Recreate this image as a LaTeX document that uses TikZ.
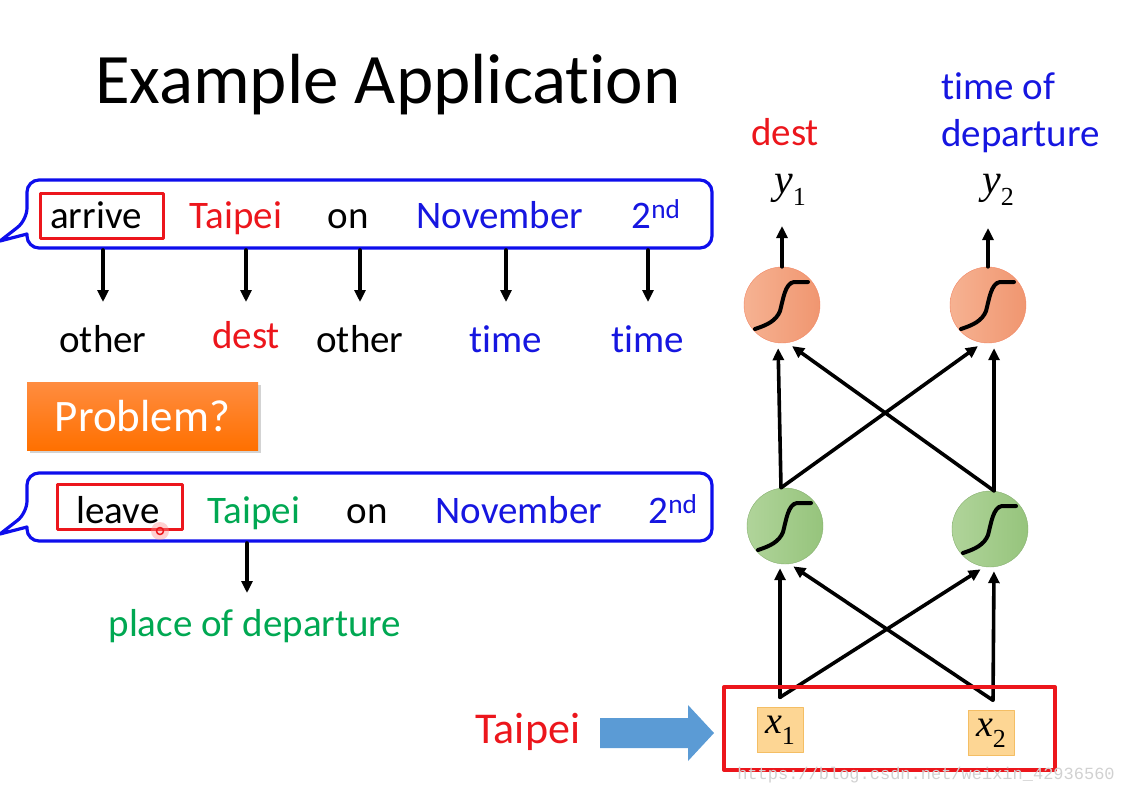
\documentclass[tikz,border=0pt]{standalone}
\usepackage{fontspec}
\setmainfont{Carlito}[Ligatures=NoCommon]
\newfontfamily\tms{Liberation Serif}
\newfontfamily\wmfont{Liberation Mono}
\usetikzlibrary{arrows.meta,calc,shadows}
\definecolor{tred}{RGB}{236,22,28}
\definecolor{tblue}{RGB}{22,22,224}
\definecolor{tgreen}{RGB}{0,168,82}
\definecolor{bblue}{RGB}{14,14,236}
\definecolor{arrblue}{RGB}{91,155,213}
\definecolor{orgl}{RGB}{246,178,146}
\definecolor{orgr}{RGB}{240,150,112}
\definecolor{grnl}{RGB}{176,212,154}
\definecolor{grnr}{RGB}{150,196,124}
\newcommand\vsub[2]{{\tms\itshape #1}\raisebox{-0.28em}{\tms\fontsize{26}{28}\selectfont #2}}

\begin{document}
\begin{tikzpicture}[x=1pt,y=-1pt,line join=round,line cap=round,>={Triangle[length=12pt,width=11pt]}]
\tikzset{word/.style={anchor=base,inner sep=2pt,font=\fontsize{39}{44}\selectfont},
bubble/.style={draw=bblue,line width=3.2pt},
hilite/.style={draw=tred,line width=3pt},
darr/.style={line width=3.6pt,->},
neur/.style={circle,minimum size=76pt,inner sep=0pt},
outn/.style={neur,left color=orgl,right color=orgr,draw=orgr!90!red},
hidn/.style={neur,left color=grnl,right color=grnr,draw=grnr!90!black},
inbox/.style={draw={rgb,255:red,244;green,190;blue,100},fill={rgb,255:red,253;green,214;blue,148},minimum width=46pt,minimum height=45pt,inner sep=0pt,font=\fontsize{38}{40}\selectfont},
sigline/.style={line width=4pt,line cap=round}}
\useasboundingbox (0,0) rectangle (1123,793);
% title
\node[anchor=base,font=\fontsize{71}{80}\selectfont] (title) at (388,103) {Example Application};
% speech bubbles
\foreach \dy in {0,293}
\draw[bubble,shift={(0,\dy)}] (27,234) [rounded corners=12pt] -- (27,248) -- (712,248) -- (712,180) -- (27,180) -- (27,220) [sharp corners] -- (0,241) -- cycle;
\node[word] (w1) at (96,228) {arrive};
\node[word,text=tred] (w2) at (236,228) {Taipei};
\node[word] (w3) at (348,228) {on};
\node[word,text=tblue] (w4) at (500,228) {November};
\node[word,text=tblue] (w5) at (656,228) {2\textsuperscript{nd}};
\draw[hilite] (40,193) rectangle (163,238);
\node[word] (l1) at (103,352) {other};
\node[word,text=tred] (l2) at (246,348) {dest};
\node[word] (l3) at (360,352) {other};
\node[word,text=tblue] (l4) at (506,352) {time};
\node[word,text=tblue] (l5) at (648,352) {time};
\coordinate (b1) at (0,250);
\coordinate (a1) at (0,302);
\foreach \l in {l1,l2,l3,l4,l5} \draw[darr] (\l |- b1) -- (\l |- a1);
\node[minimum width=231pt,minimum height=68pt,top color=orange!80!red!75!white,bottom color=orange!88!red,
  drop shadow={shadow xshift=3pt,shadow yshift=-3pt,opacity=.35},text=white,font=\fontsize{45}{50}\selectfont] (prob) at (142.5,416) {Problem?};
\node[word] (v1) at (118,523) {leave};
\node[word,text=tgreen] (v2) at (254,523) {Taipei};
\node[word] (v3) at (367,523) {on};
\node[word,text=tblue] (v4) at (519,523) {November};
\node[word,text=tblue] (v5) at (673,523) {2\textsuperscript{nd}};
\draw[hilite] (57,484) rectangle (182,529);
\fill[red!45,opacity=.4] (160,531) circle (9pt);
\draw[tred,line width=1.5pt] (160,531) circle (3.5pt);
\node[word,text=tgreen] (pd) at (255,636) {place of departure};
\coordinate (b2) at (0,543);
\coordinate (a2) at (0,593);
\draw[darr] (247,0 |- b2) -- (247,0 |- a2);
% network
\node[word,text=tred] (dst) at (785,145) {dest};
\node[text=tblue,anchor=north west,align=left,inner sep=0pt,font=\fontsize{39}{47}\selectfont] (tod) at (941,72) {time of\\departure};
\node[font=\fontsize{42}{44}\selectfont,inner sep=2pt] (y1) at (790,190) {\vsub{y}{1}};
\node[font=\fontsize{42}{44}\selectfont,inner sep=2pt] (y2) at (998,190) {\vsub{y}{2}};
\node[outn] (o1) at (782,305) {};
\node[outn] (o2) at (988,305) {};
\node[hidn] (h1) at (785,526) {};
\node[hidn] (h2) at (990,529) {};
\foreach \n in {o1,o2,h1,h2}
\draw[sigline,shift={(\n)}] (-27,24) .. controls (-15,20) and (-6,16) .. (-2,6) .. controls (1,-5) and (3,-22) .. (12,-23) -- (26,-23);
\draw[darr] (o1.north) -- (o1.north |- 0,226);
\draw[darr] (o2.north) -- (o2.north |- 0,228);
\draw[darr,shorten >=5pt] ([xshift=-4pt]h1.north) -- ([xshift=-4pt]o1.south);
\draw[darr,shorten >=5pt] ([xshift=-4pt]h1.north) -- ([xshift=-6pt]o2.south);
\draw[darr,shorten >=5pt] ([xshift=4pt]h2.north) -- ([xshift=6pt]o1.south);
\draw[darr,shorten >=5pt] ([xshift=4pt]h2.north) -- ([xshift=6pt]o2.south);
\node[inbox] (x1) at (780,730) {\vsub{x}{1}};
\node[inbox] (x2) at (991,733) {\vsub{x}{2}};
\coordinate (j1) at ([yshift=10pt]x1.north);
\coordinate (j2) at ([yshift=10pt,xshift=2pt]x2.north);
\draw[darr,shorten >=4pt] (j1) -- ([xshift=-5pt]h1.south);
\draw[darr,shorten >=4pt] (j1) -- ([xshift=-6pt]h2.south);
\draw[darr,shorten >=4pt] (j2) -- ([xshift=5pt]h1.south);
\draw[darr,shorten >=4pt] (j2) -- ([xshift=4pt]h2.south);
\draw[tred,line width=4pt] (724,687) rectangle (1055,770);
\node[anchor=base,text=tred,font=\fontsize{44}{48}\selectfont] (tp) at (528,743) {Taipei};
\fill[arrblue] (600,718) -- (688,718) -- (688,705) -- (714,733) -- (688,761) -- (688,748) -- (600,748) -- cycle;
\node[anchor=base,text=black!18,font=\wmfont\fontsize{17}{18}\selectfont] (wm) at (926,779) {https://blog.csdn.net/weixin\_42936560};
\end{tikzpicture}
\end{document}
